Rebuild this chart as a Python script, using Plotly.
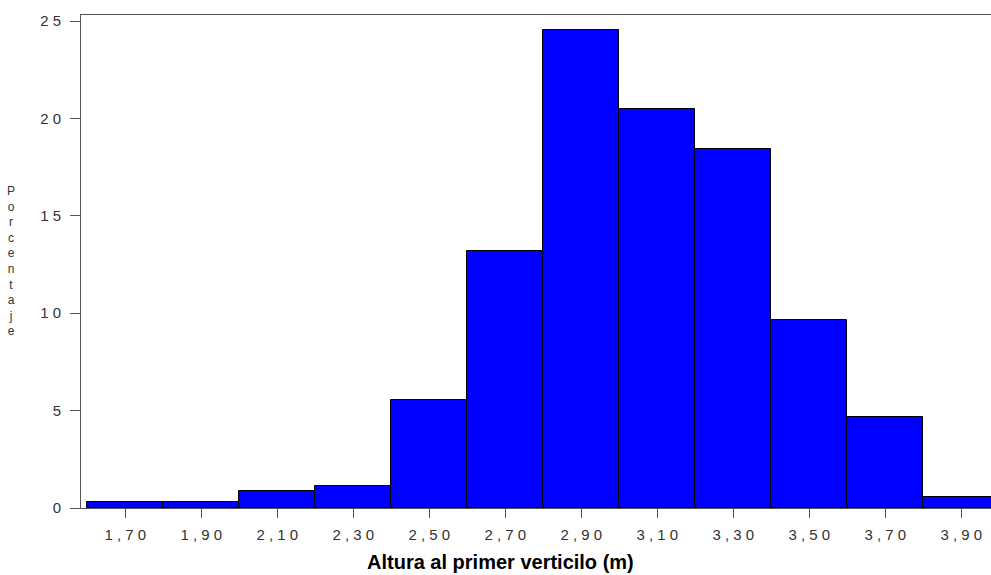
import plotly.graph_objects as go

centers = [1.70, 1.90, 2.10, 2.30, 2.50, 2.70, 2.90, 3.10, 3.30, 3.50, 3.70, 3.90]
tick_labels = ["1,70", "1,90", "2,10", "2,30", "2,50", "2,70", "2,90", "3,10", "3,30", "3,50", "3,70", "3,90"]
percent = [0.29, 0.29, 0.89, 1.14, 5.54, 13.19, 24.54, 20.48, 18.43, 9.65, 4.66, 0.58]
y_ticks = [0, 5, 10, 15, 20, 25]

def spaced(s):
    return " ".join(list(s))

fig = go.Figure()
fig.add_trace(go.Bar(
    x=centers, y=percent, width=0.2,
    marker=dict(color="#0000FF", line=dict(color="#000000", width=1)),
    showlegend=False,
))

tick_font = dict(family="Liberation Sans, Arial, sans-serif", size=15, color="#333333")

fig.update_layout(
    width=991, height=575,
    margin=dict(l=81, r=0, t=15, b=67),
    paper_bgcolor="white", plot_bgcolor="white",
    bargap=0,
    xaxis=dict(
        range=[1.5834, 3.978],
        tickvals=centers, ticktext=[spaced(t) for t in tick_labels],
        ticks="outside", ticklen=9, tickcolor="#555555", tickwidth=1,
        showline=True, linecolor="#555555", linewidth=1, mirror=True,
        showgrid=False, zeroline=False, tickfont=tick_font,
        ticklabelstandoff=4,
    ),
    yaxis=dict(
        range=[0, 25.31],
        tickvals=y_ticks, ticktext=[spaced(str(v)) for v in y_ticks],
        ticks="outside", ticklen=10, tickcolor="#555555", tickwidth=1,
        showline=True, linecolor="#555555", linewidth=1,
        showgrid=False, zeroline=False, tickfont=tick_font,
        ticklabelstandoff=6,
    ),
    annotations=[
        dict(text="<b>Altura al primer verticilo (m)</b>", xref="paper", yref="paper",
             x=(500 - 81) / 910, y=-(562 - 508) / 493, xanchor="center", yanchor="middle",
             showarrow=False, font=dict(family="Liberation Sans, Arial, sans-serif", size=20, color="black")),
        dict(text="<br>".join(list("Porcentaje")), xref="paper", yref="paper",
             x=-(81 - 11) / 910, y=(508 - 261) / 493, xanchor="center", yanchor="middle",
             showarrow=False, align="center",
             font=dict(family="Liberation Sans, Arial, sans-serif", size=12, color="#333333")),
    ],
)

fig.write_html("out.html")
